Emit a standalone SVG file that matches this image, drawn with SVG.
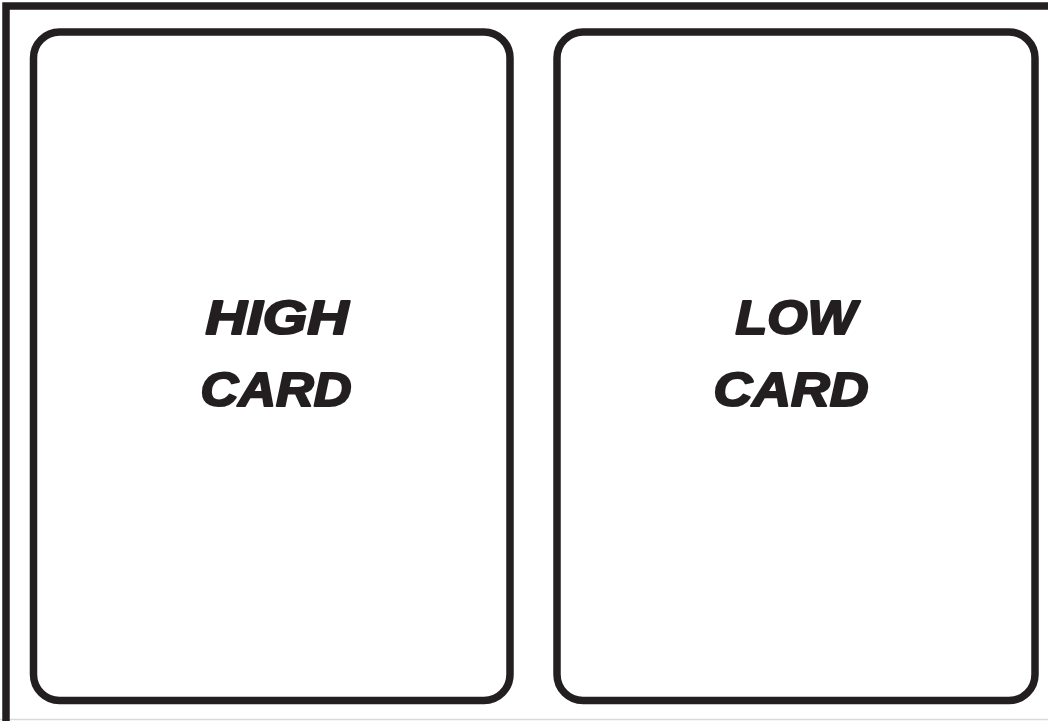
<svg xmlns="http://www.w3.org/2000/svg" width="1048" height="721" viewBox="0 0 1048 721">
<style>
.card{fill:#fff;stroke:#231f20;stroke-width:7.5}
.lbl{font-family:"Liberation Sans",Arial,sans-serif;font-weight:bold;font-style:italic;font-size:49px;fill:#231f20;stroke:#231f20;stroke-width:2.2;stroke-linejoin:round;text-anchor:middle}
</style>
<rect x="0" y="0" width="1048" height="721" fill="#fff"/>
<line x1="0" y1="719.5" x2="1048" y2="719.5" stroke="#d9d9d9" stroke-width="1.5"/>
<path d="M6 721 V6 H1048" fill="none" stroke="#231f20" stroke-width="7.5"/>
<g id="high-card">
<rect class="card" x="33.5" y="32" width="476.5" height="668.5" rx="26" ry="26"/>
<text class="lbl" x="277" y="334" textLength="143" lengthAdjust="spacingAndGlyphs">HIGH</text>
<text class="lbl" x="276" y="406" textLength="151" lengthAdjust="spacingAndGlyphs">CARD</text>
</g>
<g id="low-card">
<rect class="card" x="557" y="32" width="478" height="668.5" rx="26" ry="26"/>
<text class="lbl" x="796" y="334" textLength="121" lengthAdjust="spacingAndGlyphs">LOW</text>
<text class="lbl" x="791" y="406" textLength="155" lengthAdjust="spacingAndGlyphs">CARD</text>
</g>
<g id="connectors"/>
</svg>
